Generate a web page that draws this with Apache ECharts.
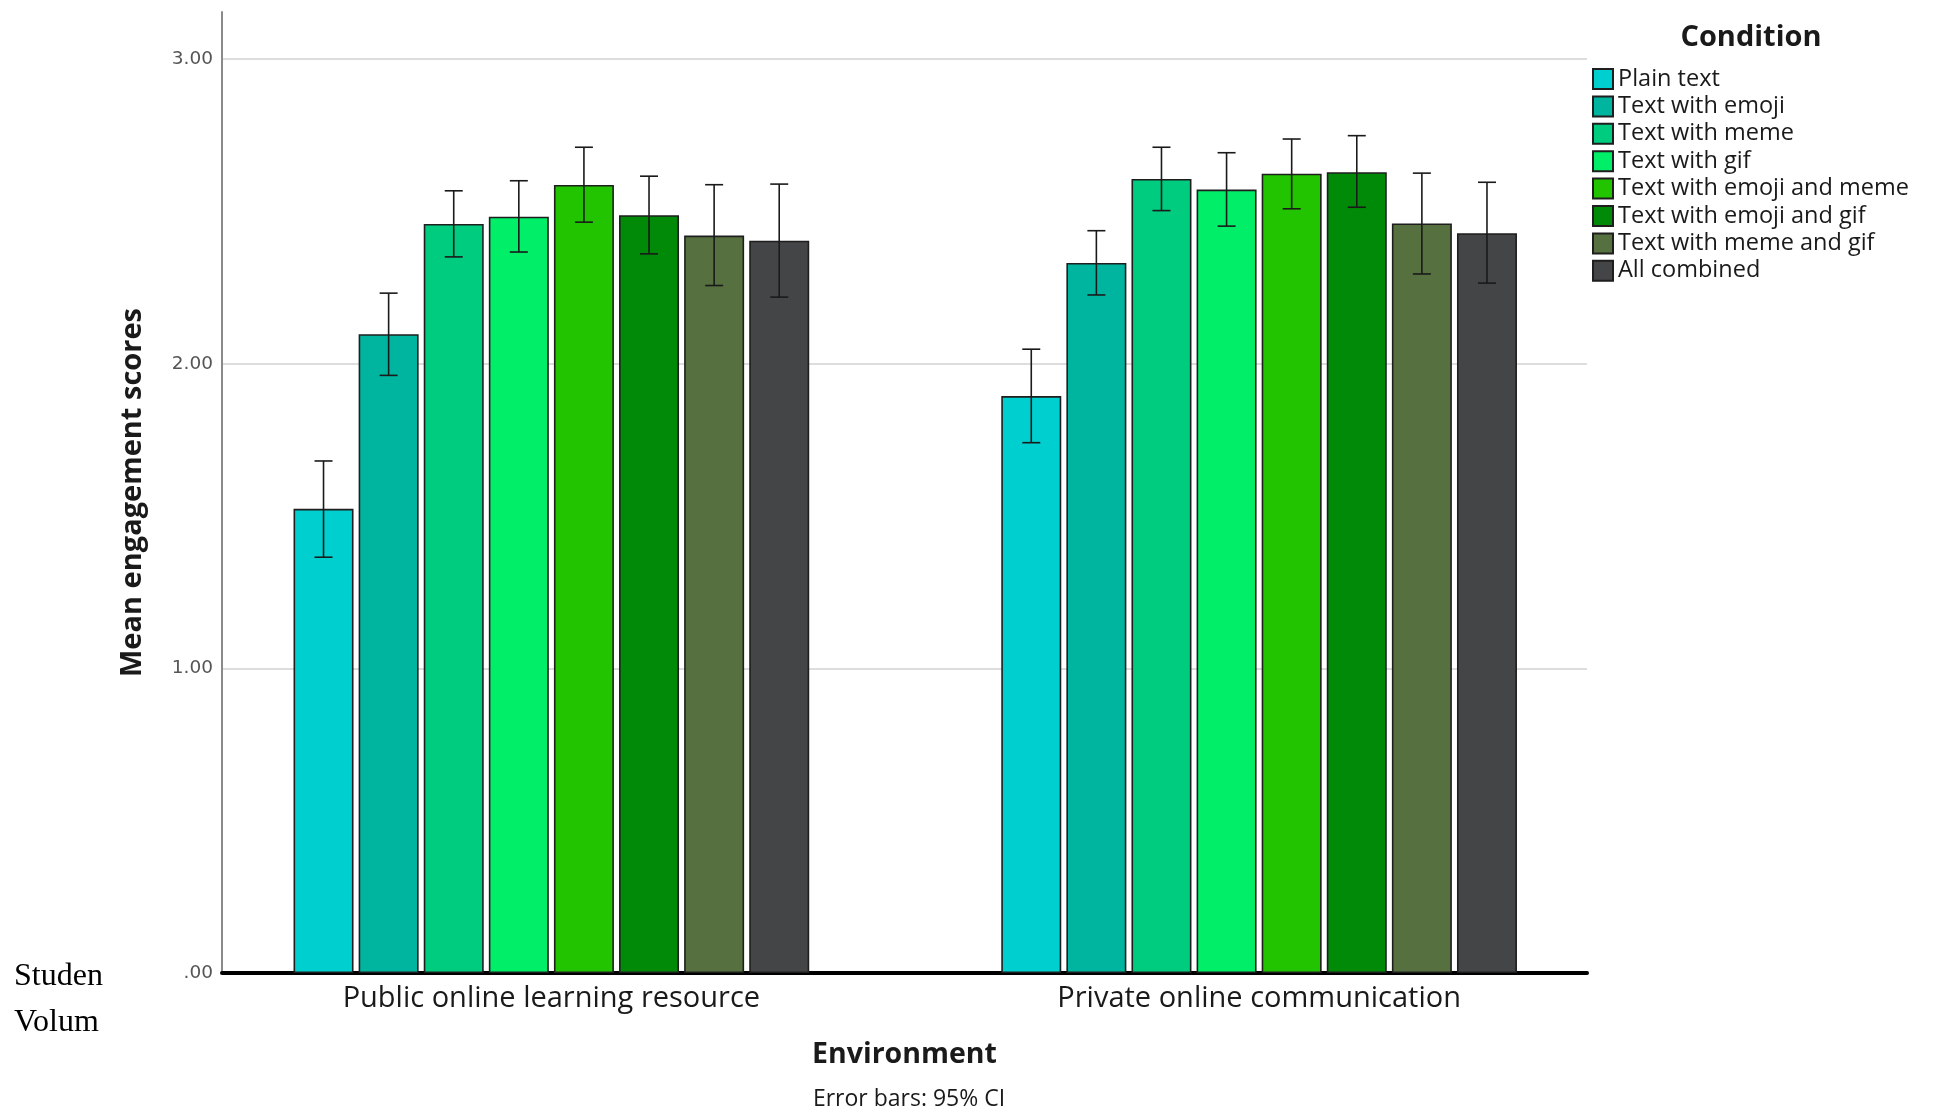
<!DOCTYPE html>
<html>
<head>
<meta charset="utf-8">
<script src="https://cdn.jsdelivr.net/npm/echarts@6/dist/echarts.min.js"></script>
<style>html,body{margin:0;padding:0;background:#fff;}#c{width:1934px;height:1114px;}</style>
</head>
<body>
<div id="c"></div>
<script>
const categories = ['Public online learning resource', 'Private online communication'];
const conditions = ['Plain text', 'Text with emoji', 'Text with meme', 'Text with gif',
  'Text with emoji and meme', 'Text with emoji and gif', 'Text with meme and gif', 'All combined'];
const colors = ['#00CFCF', '#00B5A0', '#00CC80', '#00EE68', '#22C400', '#008A08', '#56703F', '#444547'];
const meanPublic   = [1.524, 2.097, 2.459, 2.483, 2.587, 2.488, 2.421, 2.404];
const ciLowPublic  = [1.365, 1.962, 2.351, 2.367, 2.465, 2.361, 2.257, 2.219];
const ciHighPublic = [1.681, 2.232, 2.568, 2.601, 2.711, 2.616, 2.588, 2.590];
const meanPrivate   = [1.894, 2.331, 2.607, 2.572, 2.624, 2.629, 2.461, 2.429];
const ciLowPrivate  = [1.741, 2.226, 2.503, 2.452, 2.509, 2.514, 2.295, 2.265];
const ciHighPrivate = [2.048, 2.437, 2.711, 2.693, 2.738, 2.749, 2.626, 2.596];
const yTicks = [0, 1, 2, 3];

const BAR_W = 60, BAR_GAP = 5.1;
const YMAX = 3.155;

const chart = echarts.init(document.getElementById('c'), null, {renderer: 'canvas'});

const barSeries = conditions.map((name, i) => ({
  name: name,
  type: 'bar',
  xAxisIndex: 0, yAxisIndex: 0,
  barWidth: BAR_W,
  barGap: (BAR_GAP / BAR_W * 100).toFixed(1) + '%',
  data: [meanPublic[i], meanPrivate[i]],
  itemStyle: {color: colors[i], borderColor: '#1e1e1e', borderWidth: 1.6},
  emphasis: {disabled: true},
  z: 2
}));

const errData = [];
conditions.forEach((name, i) => {
  errData.push([0, ciLowPublic[i], ciHighPublic[i], i]);
  errData.push([1, ciLowPrivate[i], ciHighPrivate[i], i]);
});

const errSeries = {
  type: 'custom',
  name: 'CI',
  xAxisIndex: 0, yAxisIndex: 0,
  data: errData,
  z: 5,
  silent: true,
  renderItem: function (params, api) {
    const cat = api.value(0), lo = api.value(1), hi = api.value(2), idx = api.value(3);
    const pLo = api.coord([cat, lo]);
    const pHi = api.coord([cat, hi]);
    const n = conditions.length;
    const off = (idx - (n - 1) / 2) * (BAR_W + BAR_GAP);
    const x = pLo[0] + off;
    const cap = 9;
    const style = {stroke: '#1a1a1a', lineWidth: 1.6};
    return {
      type: 'group',
      children: [
        {type: 'line', shape: {x1: x, y1: pLo[1], x2: x, y2: pHi[1]}, style: style},
        {type: 'line', shape: {x1: x - cap, y1: pLo[1], x2: x + cap, y2: pLo[1]}, style: style},
        {type: 'line', shape: {x1: x - cap, y1: pHi[1], x2: x + cap, y2: pHi[1]}, style: style}
      ]
    };
  }
};

const option = {
  backgroundColor: '#ffffff',
  animation: false,
  textStyle: {fontFamily: 'Open Sans'},
  grid: [
    {left: 197.5, right: 321, top: 12, bottom: 141},
    {left: 222, right: 347, top: 12, bottom: 141}
  ],
  xAxis: [
    {
      type: 'category', gridIndex: 0, data: categories,
      axisLine: {show: false}, axisTick: {show: false},
      axisLabel: {fontSize: 29, color: '#1a1a1a', margin: 11, fontFamily: 'Open Sans'},
      splitLine: {show: false}
    },
    {
      type: 'category', gridIndex: 1, data: categories,
      axisLine: {show: true, lineStyle: {color: '#000', width: 4}},
      axisTick: {show: false}, axisLabel: {show: false},
      name: 'Environment', nameLocation: 'middle', nameGap: 67,
      nameTextStyle: {fontSize: 28.5, fontWeight: 'bold', color: '#1a1a1a', fontFamily: 'Open Sans'}
    }
  ],
  yAxis: [
    {
      type: 'value', gridIndex: 0, min: 0, max: YMAX,
      show: false
    },
    {
      type: 'value', gridIndex: 1, min: 0, max: YMAX, interval: 1,
      axisLine: {show: true, lineStyle: {color: '#8a8a8a', width: 2}},
      axisTick: {show: false},
      axisLabel: {
        fontSize: 18.5, color: '#555', margin: 9, fontFamily: 'DejaVu Sans',
        formatter: function (v) {
          if (yTicks.indexOf(v) < 0) return '';
          return v === 0 ? '.00' : v.toFixed(2);
        }
      },
      splitLine: {show: true, lineStyle: {color: ['#d2d2d2', '#d2d2d2', '#d2d2d2', '#d2d2d2', 'rgba(0,0,0,0)'], width: 1.5}},
      name: 'Mean engagement scores', nameLocation: 'middle', nameGap: 74.5, nameRotate: 90,
      nameTextStyle: {fontSize: 29, fontWeight: 'bold', color: '#1a1a1a', fontFamily: 'Open Sans'}
    }
  ],
  legend: {
    orient: 'vertical',
    left: 1587, top: 62,
    itemWidth: 20, itemHeight: 20, itemGap: 3.4,
    icon: 'rect',
    data: conditions,
    selectedMode: false,
    textStyle: {fontSize: 23.5, color: '#1a1a1a', fontFamily: 'Open Sans', lineHeight: 20}
  },
  title: [
    {text: 'Condition', left: 1746, top: 18, textAlign: 'center',
      textStyle: {fontSize: 29, fontWeight: 'bold', color: '#1a1a1a', fontFamily: 'Open Sans'}},
    {text: 'Error bars: 95% CI', left: 904, top: 1083, textAlign: 'center',
      textStyle: {fontSize: 23, fontWeight: 'normal', color: '#1a1a1a', fontFamily: 'Open Sans'}},
    {text: 'Studen', left: 9, top: 956,
      textStyle: {fontSize: 32, fontWeight: 'normal', color: '#000', fontFamily: 'Liberation Serif'}},
    {text: 'Volum', left: 9, top: 1002,
      textStyle: {fontSize: 32, fontWeight: 'normal', color: '#000', fontFamily: 'Liberation Serif'}}
  ],
  series: barSeries.concat([errSeries])
};

chart.setOption(option);
</script>
</body>
</html>
